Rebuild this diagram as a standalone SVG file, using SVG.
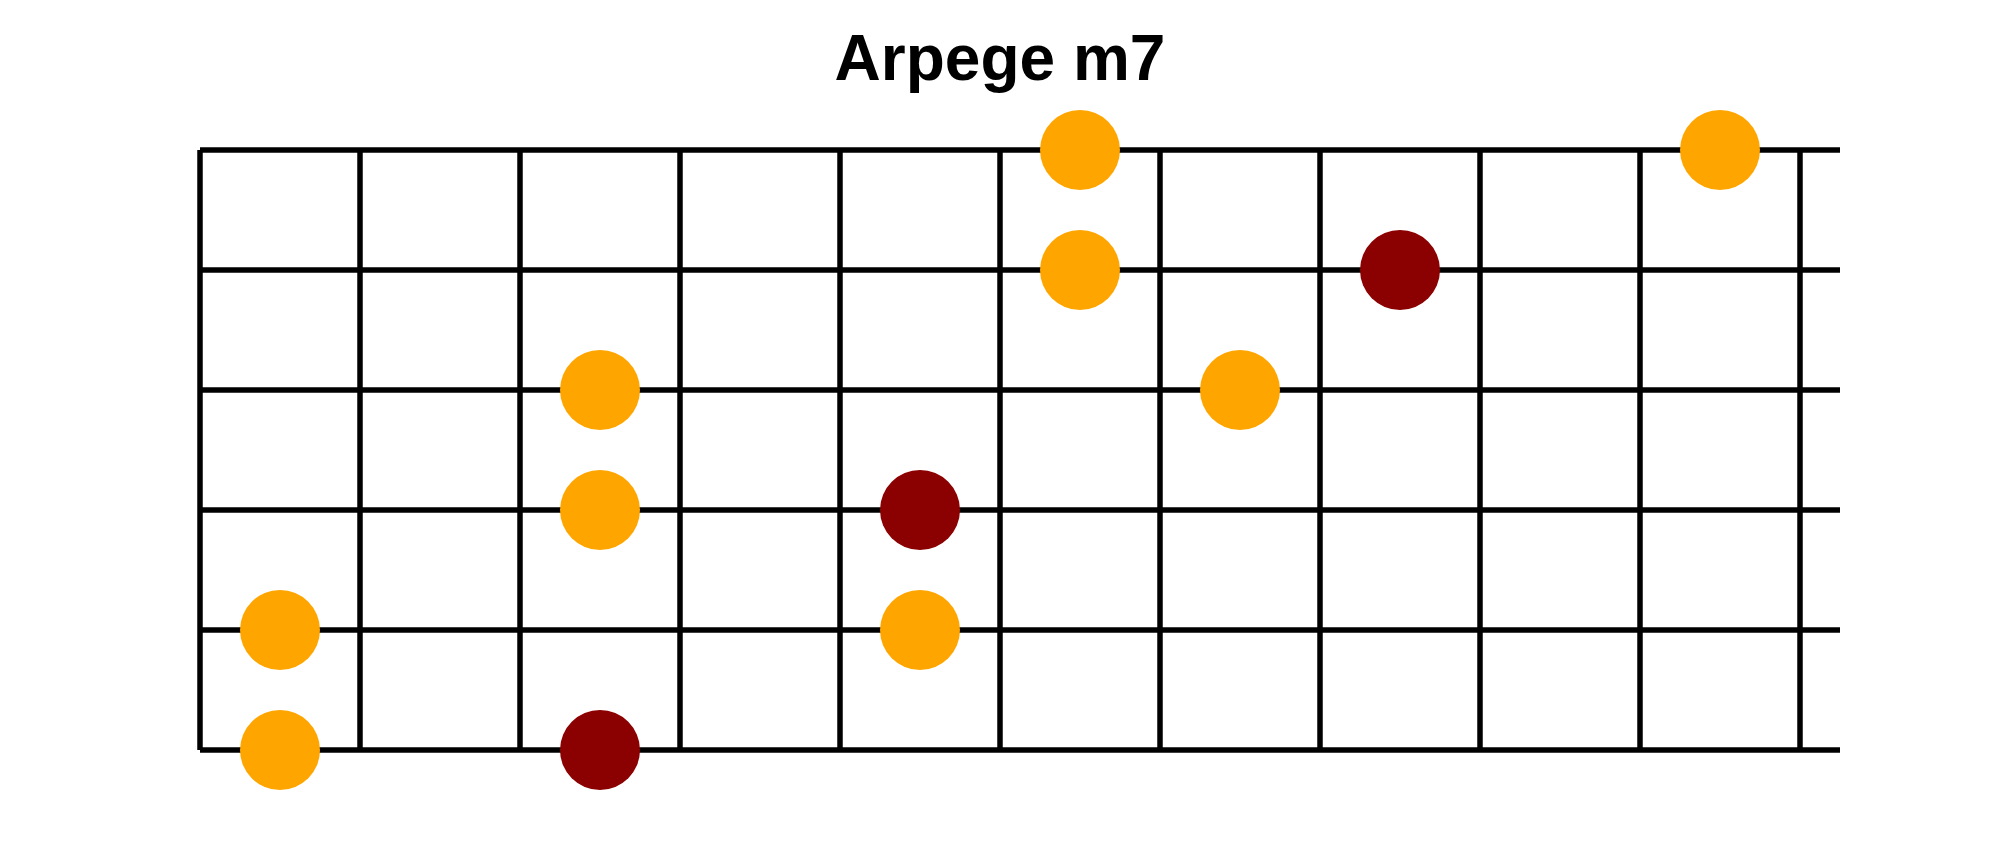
<svg xmlns="http://www.w3.org/2000/svg" width="2000" height="850" viewBox="0 0 2000 850">
<style>
.title{font-family:"Liberation Sans",Arial,sans-serif;font-weight:bold;font-size:64px;fill:#000}
.grid line{stroke:#000;stroke-width:5.5;stroke-linecap:butt}
.o{fill:#FFA500}
.r{fill:#8B0000}
</style>
<rect width="2000" height="850" fill="#fff"/>
<text id="title" class="title" x="1000" y="80" text-anchor="middle">Arpege m7</text>
<g id="connectors" class="grid">
<line x1="200" y1="150" x2="1840" y2="150"/>
<line x1="200" y1="270" x2="1840" y2="270"/>
<line x1="200" y1="390" x2="1840" y2="390"/>
<line x1="200" y1="510" x2="1840" y2="510"/>
<line x1="200" y1="630" x2="1840" y2="630"/>
<line x1="200" y1="750" x2="1840" y2="750"/>
<line x1="200" y1="150" x2="200" y2="750"/>
<line x1="360" y1="150" x2="360" y2="750"/>
<line x1="520" y1="150" x2="520" y2="750"/>
<line x1="680" y1="150" x2="680" y2="750"/>
<line x1="840" y1="150" x2="840" y2="750"/>
<line x1="1000" y1="150" x2="1000" y2="750"/>
<line x1="1160" y1="150" x2="1160" y2="750"/>
<line x1="1320" y1="150" x2="1320" y2="750"/>
<line x1="1480" y1="150" x2="1480" y2="750"/>
<line x1="1640" y1="150" x2="1640" y2="750"/>
<line x1="1800" y1="150" x2="1800" y2="750"/>
</g>
<g id="note1"><circle class="o" cx="1080" cy="150" r="40"/></g>
<g id="note2"><circle class="o" cx="1720" cy="150" r="40"/></g>
<g id="note3"><circle class="o" cx="1080" cy="270" r="40"/></g>
<g id="note4"><circle class="r" cx="1400" cy="270" r="40"/></g>
<g id="note5"><circle class="o" cx="600" cy="390" r="40"/></g>
<g id="note6"><circle class="o" cx="1240" cy="390" r="40"/></g>
<g id="note7"><circle class="o" cx="600" cy="510" r="40"/></g>
<g id="note8"><circle class="r" cx="920" cy="510" r="40"/></g>
<g id="note9"><circle class="o" cx="280" cy="630" r="40"/></g>
<g id="note10"><circle class="o" cx="920" cy="630" r="40"/></g>
<g id="note11"><circle class="o" cx="280" cy="750" r="40"/></g>
<g id="note12"><circle class="r" cx="600" cy="750" r="40"/></g>
</svg>
